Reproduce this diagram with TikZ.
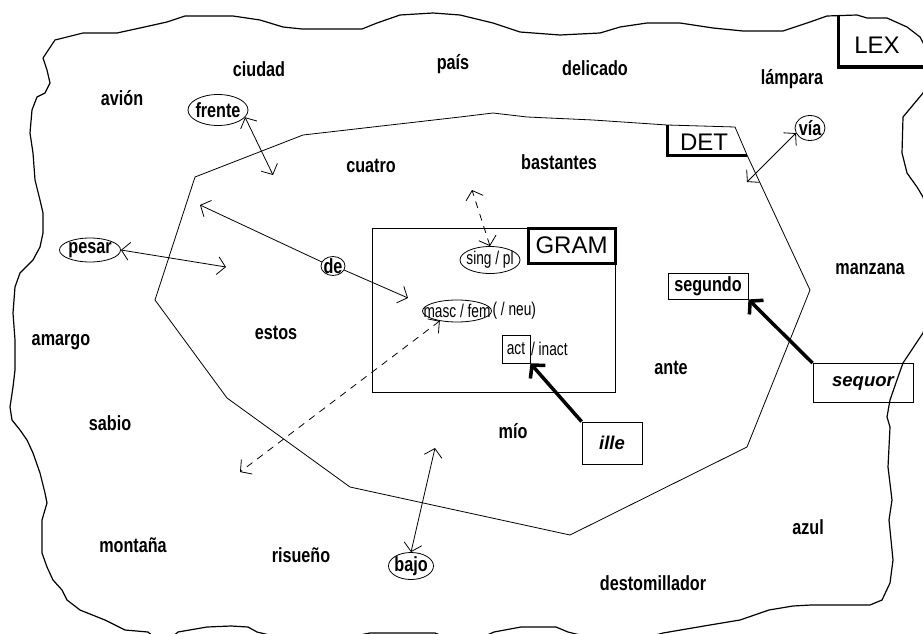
\documentclass[tikz,border=0pt]{standalone}
\usepackage{fontspec}
\usepackage{tikz}
\usetikzlibrary{shapes.geometric, arrows.meta, positioning}
\newfontfamily\wordfont{Liberation Sans}[FakeStretch=0.79]
\newfontfamily\featfont{Liberation Sans}[FakeStretch=0.74]
\newfontfamily\tagfont{Liberation Sans}
\tikzstyle{word} = [font=\wordfont\bfseries\fontsize{20.5}{20.5}\selectfont, inner sep=1pt]
\tikzstyle{latin} = [rectangle, draw, line width=0.8pt, font=\tagfont\bfseries\itshape\fontsize{18.5}{18.5}\selectfont]
\tikzstyle{feat} = [font=\featfont\fontsize{18.5}{18.5}\selectfont, inner sep=0.5pt]
\tikzstyle{tag} = [font=\tagfont\fontsize{24}{24}\selectfont, inner sep=0pt]
\tikzstyle{oval} = [ellipse, draw, line width=0.8pt, inner sep=-10pt]
\tikzstyle{frame} = [line width=3pt]
\tikzstyle{arrow} = [line width=0.8pt, -{Straight Barb[length=8pt,width=18pt]}]
\tikzstyle{link} = [line width=0.8pt, {Straight Barb[length=8pt,width=18pt]}-{Straight Barb[length=8pt,width=18pt]}]
\tikzstyle{dashedlink} = [link, dash pattern=on 7pt off 6pt]
\tikzstyle{push} = [line width=3.5pt, -{Straight Barb[length=9pt,width=20pt]}]

\begin{document}
\begin{tikzpicture}[x=1pt, y=-1pt]
    \path[fill=white] (0,0) rectangle (923,634);
    \clip (0,0) rectangle (923,634);

    % LEX area
    \draw[line width=1.2pt, line join=round] plot coordinates {
        (43,58) (55,40) (83,33) (117,33) (140,28) (167,22) (185,16) (233,16) (260,20) (283,27)
        (302,29) (362,29) (377,23) (400,15) (433,13) (460,15) (493,23) (520,32) (560,35) (600,33)
        (620,27) (647,23) (680,23) (713,28) (743,31) (783,31) (810,22) (827,16) (857,15) (867,18)
        (887,18) (907,27) (920,37) (935,65) (923,93) (903,117) (902,153) (907,173) (917,187) (923,197)
        (940,265) (923,333) (903,363) (898,377) (890,400) (887,417) (890,427) (888,467) (892,500) (889,520)
        (893,560) (890,583) (882,600) (870,605) (811,605) (793,606) (769,610) (740,620) (704,626) (663,633)
        (620,645) (568,632) (556,627) (521,627) (494,632) (465,645) (435,633) (370,633) (310,645) (257,632)
        (248,627) (231,626) (207,627) (178,632) (163,645) (148,632) (125,630) (105,620) (80,610) (67,600)
        (62,590) (53,580) (47,567) (42,553) (42,520) (47,503) (45,493) (40,473) (33,453) (27,440)
        (20,430) (12,420) (10,407) (13,387) (15,370) (15,340) (13,313) (15,287) (20,273) (33,260)
        (40,247) (43,233) (43,213) (40,200) (35,180) (33,153) (30,133) (32,110) (37,97) (45,93)
        (50,83) (47,70) (43,58)};
    \node[tag] (lex) at (877,45) {LEX};
    \draw[frame] (838,15) -- (838,67) -- (930,67);

    % DET area
    \draw[line width=0.8pt, line join=round] (195,177) -- (303,135) -- (460,117) -- (493,113) -- (527,117)
        -- (593,120) -- (667,125) -- (735,127) -- (747,155) -- (810,290) -- (747,447) -- (570,535)
        -- (350,487) -- (227,398) -- (155,300) -- cycle;
    \node[tag] (det) at (704,142) {DET};
    \draw[frame] (667,125) -- (667,155) -- (747,155);

    % GRAM area
    \node[draw, line width=0.8pt, minimum width=243, minimum height=164] (grambox) at (493.5,310) {};
    \node[tag, draw, frame, minimum width=87, minimum height=35] (gram) at (571.5,245.5) {GRAM};
    \node[feat, oval, minimum width=60, minimum height=27] (sing) at (490,260) {sing / pl};
    \node[feat, oval, minimum width=69, minimum height=22] (masc) at (457,311) {masc / fem};
    \node[feat, anchor=west] (neu) at (masc.east) {( / neu)};
    \node[feat, draw, line width=0.8pt, minimum size=28, inner sep=0pt] (act) at (516,349) {act};
    \node[feat, anchor=west] (inact) at (act.east) {/ inact};

    % Words
    \node[word] (avion) at (122,98) {avión};
    \node[word] (ciudad) at (259,69) {ciudad};
    \node[word] (pais) at (453,64) {país};
    \node[word] (delicado) at (595,68) {delicado};
    \node[word] (lampara) at (792,79) {lámpara};
    \node[word] (cuatro) at (371,166) {cuatro};
    \node[word] (bastantes) at (559,162) {bastantes};
    \node[word] (manzana) at (870,269) {manzana};
    \node[word] (amargo) at (61,342) {amargo};
    \node[word] (estos) at (276,333) {estos};
    \node[word] (sabio) at (110,423) {sabio};
    \node[word] (montana) at (133,545) {montaña};
    \node[word] (risueno) at (301,555) {risueño};
    \node[word] (ante) at (671,368) {ante};
    \node[word] (mio) at (513,431) {mío};
    \node[word] (azul) at (808,527) {azul};
    \node[word] (destom) at (653,583) {destomillador};

    % Circled words
    \node[word, oval, minimum width=60, minimum height=31] (frente) at (218,110) {frente};
    \node[word, oval, minimum width=61, minimum height=24] (pesar) at (90,250) {pesar};
    \node[word, oval, minimum width=24, minimum height=19] (de) at (333,266) {de};
    \node[word, oval, minimum width=45, minimum height=27] (bajo) at (411,566) {bajo};
    \node[word, oval, minimum width=30, minimum height=25] (via) at (810,128) {vía};

    % Boxed words
    \node[word, draw, line width=0.8pt, minimum width=80, minimum height=26] (segundo) at (708,286) {segundo};
    \node[latin, minimum width=100, minimum height=39] (sequor) at (863,383) {sequor};
    \node[latin, minimum width=60, minimum height=42] (ille) at (612,443) {ille};

    % Free ends
    \coordinate (frentetip) at (273,175);
    \coordinate (pesartip) at (226,267);
    \coordinate (deleft) at (200,205);
    \coordinate (deright) at (408,298);
    \coordinate (viatip) at (747,182);
    \coordinate (bajotip) at (435,448);
    \coordinate (singtip) at (472,190);
    \coordinate (masctip) at (240,472);

    % Arrows
    \draw[link] (frente.-15) -- (frentetip);
    \draw[link] (pesar.east) -- (pesartip);
    \draw[arrow] (de.160) -- (deleft);
    \draw[arrow] (de.-20) -- (deright);
    \draw[link] (via.200) -- (viatip);
    \draw[link] (bajo.north) -- (bajotip);
    \draw[dashedlink] (sing.north) -- (singtip);
    \draw[dashedlink] (masc.210) -- (masctip);
    \draw[push] (ille.north west) -- (act.south east);
    \draw[push] (sequor.north west) -- (segundo.south east);
\end{tikzpicture}
\end{document}
